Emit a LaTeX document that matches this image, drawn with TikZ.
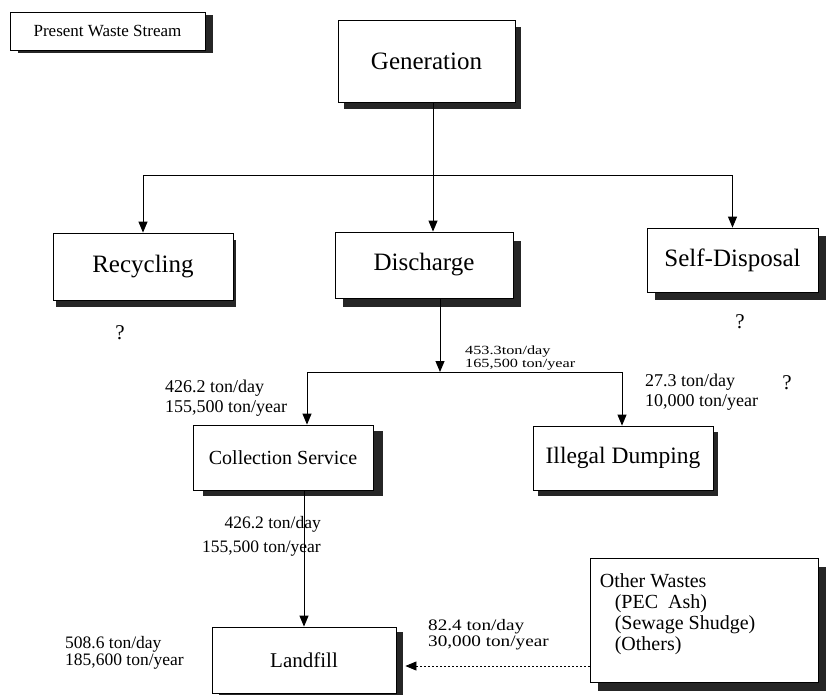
\documentclass[tikz,border=0pt]{standalone}
\usepackage{fontspec}
\setmainfont{Liberation Serif}
\usepackage{graphicx}
\usetikzlibrary{arrows.meta,shadows,calc}
\begin{document}
\begin{tikzpicture}[x=1pt,y=-1pt,
  box/.style={draw=black, line width=0.8pt, fill=white, inner sep=1pt},
  shd/.style 2 args={drop shadow={shadow xshift=#1, shadow yshift=-#2, fill=black!85, opacity=1}},
  big/.style={font=\fontsize{25}{28}\selectfont},
  ln/.style={line width=1pt},
  arr/.style={line width=1pt, -{Triangle[width=9pt,length=11pt]}},
  dotarr/.style={line width=0.8pt, dash pattern=on 2pt off 2pt, -{Triangle[width=9pt,length=11pt]}},
  lbl/.style={inner sep=0pt, anchor=west},
  rlbl/.style={inner sep=0pt, anchor=east},
  q/.style={inner sep=0pt, font=\fontsize{21}{21}\selectfont}]
\fill[white] (0,0) rectangle (826,695);
\useasboundingbox (0,0) rectangle (826,695);

% boxes
\node[box, shd={8pt}{3pt}, minimum width=195pt, minimum height=38pt, font=\fontsize{17}{17}\selectfont] (pws) at (107.5,31) {Present Waste Stream};
\node[box, shd={6pt}{7pt}, minimum width=177pt, minimum height=82pt, big] (gen) at (426.5,61) {Generation};
\node[box, shd={3pt}{7pt}, minimum width=180pt, minimum height=67pt, big] (rec) at (143,266.5) {Recycling};
\node[box, shd={8pt}{9pt}, minimum width=178pt, minimum height=66pt, big] (dis) at (424,265) {Discharge};
\node[box, shd={8pt}{8pt}, minimum width=171pt, minimum height=64pt, big] (sd) at (732.5,260) {Self-Disposal};
\node[box, shd={10pt}{6pt}, minimum width=180pt, minimum height=65pt, font=\fontsize{20}{20}\selectfont] (col) at (283,457.5) {Collection Service};
\node[box, shd={5pt}{6pt}, minimum width=180pt, minimum height=64pt, font=\fontsize{23.5}{24}\selectfont] (ill) at (623,458) {Illegal Dumping};
\node[box, shd={7pt}{5pt}, minimum width=184pt, minimum height=66pt, font=\fontsize{21}{21}\selectfont] (lf) at (304,660) {Landfill};
\node[box, shd={8pt}{9pt}, minimum width=228pt, minimum height=124pt] (ow) at (704,620) {};
\node[anchor=north west, inner sep=0pt, align=left, font=\fontsize{20}{21}\selectfont] (owt) at ([xshift=10pt,yshift=-16pt]ow.north west)
  {Other Wastes\\\hspace{15pt}(PEC\ \ Ash)\\\hspace{15pt}(Sewage Shudge)\\\hspace{15pt}(Others)};

% top split
\coordinate (j1) at (433,175);
\coordinate (jl) at (rec.north |- j1);
\coordinate (jr) at (sd.north |- j1);
\draw[ln] (gen.south -| j1) -- (j1);
\draw[ln] (jl) -- (jr);
\draw[arr] (jl) -- (rec.north);
\draw[arr] (j1) -- (dis.north -| j1);
\draw[arr] (jr) -- (sd.north);

% discharge split
\coordinate (j2) at (440,372);
\coordinate (cl) at (307,372);
\coordinate (cr) at (622,372);
\draw[arr] (dis.south -| j2) -- (j2);
\draw[ln] (cl) -- (cr);
\draw[arr] (cl) -- (col.north -| cl);
\draw[arr] (cr) -- (ill.north -| cr);

% to landfill
\draw[arr] (col.south -| lf.north) -- (lf.north);
\coordinate (lfin) at ([xshift=9pt,yshift=-6pt]lf.east);
\draw[dotarr] (ow.west |- lfin) -- (lfin);

% labels
\node[lbl] (l1) at (465,358.5) {\scalebox{1.3}[1]{\fontsize{12.5}{13}\selectfont\begin{tabular}{@{}l@{}}453.3ton/day\\165,500 ton/year\end{tabular}}};
\node[lbl] (l2) at (165,398) {\fontsize{18}{20}\selectfont\begin{tabular}{@{}l@{}}426.2 ton/day\\155,500 ton/year\end{tabular}};
\node[lbl] (l3) at (645,392) {\fontsize{18}{20}\selectfont\begin{tabular}{@{}l@{}}27.3 ton/day\\10,000 ton/year\end{tabular}};
\node[rlbl] (l4) at (321,535.5) {\fontsize{17.5}{24}\selectfont\begin{tabular}{@{}r@{}}426.2 ton/day\\155,500 ton/year\end{tabular}};
\node[lbl] (l5) at (65,653.5) {\fontsize{17.5}{17}\selectfont\begin{tabular}{@{}l@{}}508.6 ton/day\\185,600 ton/year\end{tabular}};
\node[lbl] (l6) at (428,635.5) {\scalebox{1.2}[1]{\fontsize{16}{15.5}\selectfont\begin{tabular}{@{}l@{}}82.4 ton/day\\30,000 ton/year\end{tabular}}};

% question marks
\node[q] (q1) at (120,333) {?};
\node[q] (q2) at (740,322) {?};
\node[q] (q3) at (787,383) {?};
\end{tikzpicture}
\end{document}
